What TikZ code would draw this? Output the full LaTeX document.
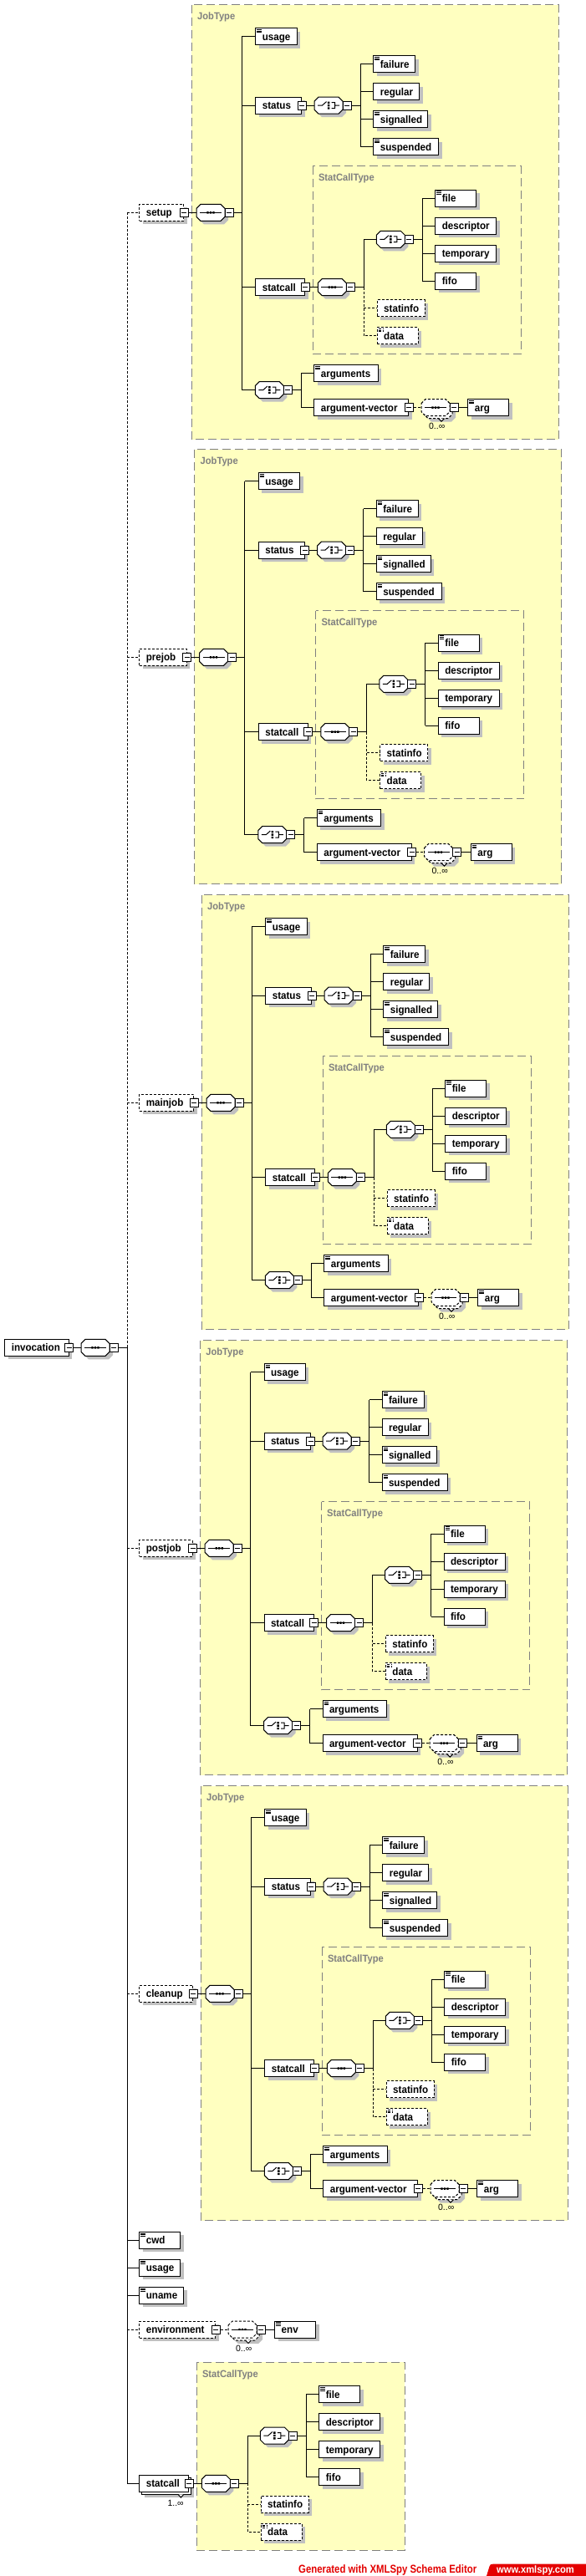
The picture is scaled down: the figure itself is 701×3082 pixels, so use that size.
\documentclass[tikz,border=0pt]{standalone}
\usepackage{fontspec}
\usepackage{graphicx}
\setmainfont{Liberation Sans}
\newfontfamily\elfont[FakeStretch=0.93]{Liberation Sans}
\usetikzlibrary{shadows}
\definecolor{blockfill}{RGB}{255,255,192}
\definecolor{blockline}{RGB}{128,128,128}
\definecolor{shadowgray}{RGB}{192,192,192}
\definecolor{xmlred}{RGB}{228,0,0}
\tikzset{
  conn/.style={line width=1pt},
  optconn/.style={line width=1pt, dash pattern=on 3pt off 2pt},
  elshadow/.style={drop shadow={shadow xshift=4pt, shadow yshift=-4pt, fill=shadowgray, opacity=1}},
  elcore/.style={draw, fill=white, line width=1pt, minimum height=20pt, inner xsep=8pt, inner ysep=0pt,
    text height=11pt, text depth=2pt, anchor=west, font=\elfont\bfseries\fontsize{12.5}{14}\selectfont},
  reqel/.style={elcore, elshadow},
  optel/.style={elcore, dash pattern=on 3pt off 2pt, elshadow},
  docicon/.style={path picture={\draw[line width=0.8pt]
     ([shift={(1.5pt,-1.6pt)}]path picture bounding box.north west) -- +(5.5pt,0pt)
     ([shift={(1.5pt,-3.4pt)}]path picture bounding box.north west) -- +(5.5pt,0pt)
     ([shift={(1.5pt,-5.2pt)}]path picture bounding box.north west) -- +(5.5pt,0pt);}},
  minusbox/.style={draw, fill=white, line width=1pt, minimum size=10pt, inner sep=0pt,
    path picture={\draw[line width=1pt] ([xshift=2pt]path picture bounding box.west) -- ([xshift=-2pt]path picture bounding box.east);}},
  octnode/.style={anchor=west, minimum width=34pt, minimum height=20pt, inner sep=0pt},
  typebox/.style={draw=blockline, line width=1pt, dash pattern=on 10pt off 5pt},
  typelabel/.style={anchor=base west, inner sep=0pt, text=blockline, font=\elfont\bfseries\fontsize{12}{14}\selectfont},
  occurs/.style={inner sep=0pt, font=\fontsize{10.5}{12}\selectfont},
}
\newcommand\elbox[6]{\node[#1, minimum width=#5pt] (#2) at (#3,#4) {\makebox[\dimexpr#5pt-16pt\relax][l]{#6}};}
\newcommand\elminus[1]{\node[minusbox] (#1m) at (#1.east) {};}
\newcommand\octshape[1]{\path[#1] (0,-5) -- (5,-10) -- (29,-10) -- (34,-5) -- (34,5) -- (29,10) -- (5,10) -- (0,5) -- cycle;}
\newcommand\seqsym{\draw[line width=1pt] (4,0) -- (30,0);
  \fill (12.3,-1.2) rectangle +(2.4,2.4) (15.8,-1.2) rectangle +(2.4,2.4) (19.3,-1.2) rectangle +(2.4,2.4);}
\newcommand\choicesym{\draw[line width=1pt] (4,0) -- (9.5,0) -- (14.5,-4.5)
   (20.5,-3.4) -- (24.5,-3.4) -- (24.5,3.4) -- (20.5,3.4) (24.5,0) -- (30,0);
  \fill (15.9,-4.6) rectangle +(2.4,2.4) (15.9,-1.2) rectangle +(2.4,2.4) (15.9,2.2) rectangle +(2.4,2.4);}
\newcommand\octo[5]{%
\begin{scope}[shift={(#2,#3)}]
\octshape{fill=shadowgray,shift={(4,4)}}
\octshape{draw,fill=white,line width=1pt,#5}
\node[octnode] (#1) at (0,0) {};
#4
\node[minusbox] (#1m) at (39,0) {};
\end{scope}}
\newcommand\octomulti[4]{%
\begin{scope}[shift={(#2,#3)}]
\octshape{fill=shadowgray,shift={(7,7)}}
\octshape{draw,fill=white,line width=1pt,dash pattern=on 3pt off 2pt,shift={(3,3)}}
\filldraw[fill=white,line width=1pt] (20.5,13) -- (24,16.5) -- (27.5,13);
\octshape{draw,fill=white,line width=1pt,dash pattern=on 3pt off 2pt}
\node[octnode] (#1) at (0,0) {};
\seqsym
\node[minusbox] (#1m) at (39,0) {};
\node[occurs] (#1occ) at (18.7,22.6) {#4};
\end{scope}}
\newcommand\statcalltype[5]{%
\begin{scope}[shift={(#2,#3)}]
\path[typebox,#4] (0,0) rectangle (249,225);
\node[typelabel] (#1lbl) at (6.5,17.7) {StatCallType};
\octo{#1seq}{6}{145}{\seqsym}{}
\coordinate (#1v) at (61,145);
\octo{#1ch}{76}{87.7}{\choicesym}{}
\coordinate (#1cv) at (131,87.7);
\elbox{reqel,docicon}{#1file}{146}{38.4}{49}{file}
\elbox{reqel}{#1descriptor}{146}{71.4}{73}{descriptor}
\elbox{reqel}{#1temporary}{146}{104.4}{73}{temporary}
\elbox{reqel}{#1fifo}{146}{137.4}{49}{fifo}
\elbox{optel}{#1statinfo}{76.4}{170}{57}{statinfo}
\elbox{optel,docicon}{#1data}{76.4}{203}{49}{data}
\draw[conn] (#5.east) -- (#1seq.west);
\draw[conn] (#1seqm.east) -- (#1v) -- (#1v |- #1ch.west) -- (#1ch.west);
\draw[optconn] (#1v) -- (#1v |- #1data.west) -- (#1data.west);
\draw[optconn] (#1v |- #1statinfo.west) -- (#1statinfo.west);
\draw[conn] (#1chm.east) -- (#1cv);
\draw[conn] (#1cv |- #1file.west) -- (#1cv |- #1fifo.west);
\foreach \cn in {file,descriptor,temporary,fifo} \draw[conn] (#1cv |- #1\cn.west) -- (#1\cn.west);
\end{scope}}
\newcommand\jobblock[3]{%
\begin{scope}[shift={(#2,#3)}]
\path[typebox,fill=blockfill] (0,0) rectangle (439,520);
\node[typelabel] (#1jt) at (6.7,17.4) {JobType};
\octo{#1seq}{5.7}{248.7}{\seqsym}{}
\coordinate (#1trunk) at (60,248.7);
\elbox{reqel,docicon}{#1usage}{76}{38}{49.4}{usage}
\elbox{reqel}{#1status}{76}{120.5}{55}{status}
\elminus{#1status}
\octo{#1sch}{146.7}{120.5}{\choicesym}{}
\coordinate (#1sv) at (202,120.5);
\elbox{reqel,docicon}{#1failure}{217}{71}{50}{failure}
\elbox{reqel}{#1regular}{217}{104}{55}{regular}
\elbox{reqel,docicon}{#1signalled}{217}{137}{65}{signalled}
\elbox{reqel,docicon}{#1suspended}{217}{170}{78}{suspended}
\elbox{reqel}{#1statcall}{76}{338}{59}{statcall}
\elminus{#1statcall}
\statcalltype{#1sc}{145}{193}{}{#1statcallm}
\octo{#1lch}{76}{461}{\choicesym}{}
\coordinate (#1lv) at (131,461);
\elbox{reqel,docicon}{#1arguments}{146}{441}{76.4}{arguments}
\elbox{reqel}{#1argvec}{146}{482}{113}{argument-vector}
\elminus{#1argvec}
\octomulti{#1aseq}{274.7}{482}{0..∞}
\elbox{reqel,docicon}{#1arg}{330}{482}{49}{arg}
\draw[conn] (#1seqm.east) -- (#1trunk);
\draw[conn] (#1trunk |- #1usage.west) -- (#1trunk |- #1lch.west);
\foreach \cn in {usage,status,statcall,lch} \draw[conn] (#1trunk |- #1\cn.west) -- (#1\cn.west);
\draw[conn] (#1statusm.east) -- (#1sch.west);
\draw[conn] (#1schm.east) -- (#1sv);
\draw[conn] (#1sv |- #1failure.west) -- (#1sv |- #1suspended.west);
\foreach \cn in {failure,regular,signalled,suspended} \draw[conn] (#1sv |- #1\cn.west) -- (#1\cn.west);
\draw[conn] (#1lchm.east) -- (#1lv);
\draw[conn] (#1lv |- #1arguments.west) -- (#1lv |- #1argvec.west);
\foreach \cn in {arguments,argvec} \draw[conn] (#1lv |- #1\cn.west) -- (#1\cn.west);
\draw[optconn] (#1argvecm.east) -- (#1aseq.west);
\draw[conn] (#1aseqm.east) -- (#1arg.west);
\end{scope}}

\begin{document}
\begin{tikzpicture}[x=1pt,y=-1pt]
\useasboundingbox (0,0) rectangle (701,3082);
\fill[white] (0,0) rectangle (701,3082);

% root
\elbox{reqel}{invocation}{5.3}{1612.3}{76.4}{invocation}
\elminus{invocation}
\octo{invseq}{97}{1612.3}{\seqsym}{}
\coordinate (itrunk) at (152.3,1612.3);

% job blocks
\elbox{optel}{setup}{166.3}{254.3}{53}{setup}
\elminus{setup}
\jobblock{A}{229.3}{5.6}
\draw[conn] (setupm.east) -- (Aseq.west);

\elbox{optel}{prejob}{166.3}{786.3}{56.5}{prejob}
\elminus{prejob}
\jobblock{B}{232.8}{537.6}
\draw[conn] (prejobm.east) -- (Bseq.west);

\elbox{optel}{mainjob}{166.3}{1319.3}{65}{mainjob}
\elminus{mainjob}
\jobblock{C}{241.3}{1070.6}
\draw[conn] (mainjobm.east) -- (Cseq.west);

\elbox{optel}{postjob}{166.3}{1852.3}{63.2}{postjob}
\elminus{postjob}
\jobblock{D}{239.5}{1603.6}
\draw[conn] (postjobm.east) -- (Dseq.west);

\elbox{optel}{cleanup}{166.3}{2385.3}{64}{cleanup}
\elminus{cleanup}
\jobblock{E}{240.3}{2136.6}
\draw[conn] (cleanupm.east) -- (Eseq.west);

% simple children
\elbox{reqel,docicon}{cwd}{166.3}{2680.3}{49}{cwd}
\elbox{reqel,docicon}{busage}{166.3}{2713.3}{49}{usage}
\elbox{reqel,docicon}{uname}{166.3}{2746.3}{53}{uname}
\elbox{optel}{environment}{166.3}{2787}{91}{environment}
\elminus{environment}
\octomulti{envseq}{273}{2787}{0..∞}
\elbox{reqel,docicon}{env}{328.2}{2787}{49}{env}
\draw[optconn] (environmentm.east) -- (envseq.west);
\draw[conn] (envseqm.east) -- (env.west);

% repeated statcall
\fill[shadowgray] (173.3,2968.3) rectangle (232.3,2988.3);
\filldraw[fill=white,line width=1pt] (169.3,2964.3) rectangle (228.3,2984.3);
\filldraw[fill=white,line width=1pt] (213,2984.3) -- (216.4,2988) -- (219.8,2984.3);
\elbox{elcore}{bstatcall}{166.3}{2971.3}{59}{statcall}
\elminus{bstatcall}
\node[occurs] (bstatcallocc) at (210.1,2995.3) {1..∞};
\statcalltype{bsc}{235.3}{2826.3}{fill=blockfill}{bstatcallm}

% root connectors
\draw[conn] (invocationm.east) -- (invseq.west);
\draw[conn] (invseqm.east) -- (itrunk);
\draw[optconn] (itrunk) -- (itrunk |- setup.west);
\draw[conn] (itrunk) -- (itrunk |- bstatcall.west);
\foreach \cn in {setup,prejob,mainjob,postjob,cleanup,environment} \draw[optconn] (itrunk |- \cn.west) -- (\cn.west);
\foreach \cn in {cwd,busage,uname,bstatcall} \draw[conn] (itrunk |- \cn.west) -- (\cn.west);

% banner
\fill[xmlred] (582,3082) -- (585.5,3070.5) .. controls (586.2,3068.3) and (587,3067.7) .. (589.5,3067.7) -- (701,3067.7) -- (701,3082) -- cycle;
\node[anchor=north west, inner sep=0pt, text=xmlred] (gen) at (357,3068.3) {\resizebox*{213pt}{12.7pt}{\bfseries Generated with XMLSpy Schema Editor}};
\node[anchor=north west, inner sep=0pt, text=white] (url) at (594,3069) {\resizebox*{92.7pt}{11.3pt}{\bfseries www.xmlspy.com}};
\end{tikzpicture}
\end{document}
